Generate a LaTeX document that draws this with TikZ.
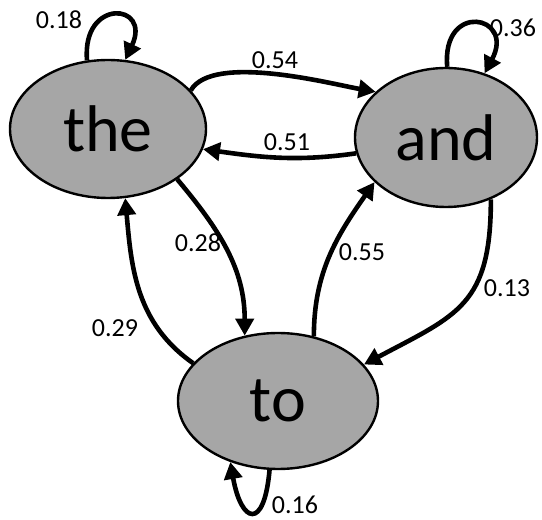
\documentclass[tikz,border=0pt]{standalone}
\usepackage{fontspec}
\setmainfont{Carlito}
\usetikzlibrary{arrows.meta,shapes.geometric}
\definecolor{stategray}{HTML}{A6A6A6}
\begin{document}
\begin{tikzpicture}[x=1pt,y=1pt,
  state/.style={ellipse, draw=black, line width=2.4pt, fill=stategray, inner sep=0pt,
    font=\fontsize{66}{70}\selectfont},
  edge/.style={line width=4.6pt, -{Triangle[length=17pt,width=18pt]}},
  lbl/.style={font=\fontsize{26}{30}\selectfont, inner sep=0pt}]
\useasboundingbox (0,0) rectangle (542,520);
\node[state, minimum width=196pt, minimum height=138pt] (the) at (108,391) {the};
\node[state, minimum width=182pt, minimum height=139pt] (and) at (446,382.5) {and};
\node[state, minimum width=200pt, minimum height=136pt] (to) at (278,119) {to};
% self loops
\draw[edge] (the.107) .. controls +(95:63) and +(65:63) .. (the.76);
\draw[edge] (and.89) .. controls +(95:66) and +(62:66) .. (and.59.5);
\draw[edge] (to.263.4) .. controls +(-95:62) and +(-80:62) .. (to.232);
% edges between states
\draw[edge] (the.25) to[out=60,in=170,looseness=0.6] (and.147);
\draw[edge] (and.190) to[out=188,in=-8] (the.-12);
\draw[edge] (the.-36) to[out=-50,in=90] (to.117);
\draw[edge] (to.156.6) to[out=145,in=-85] (the.-76.5);
\draw[edge] (to.61.3) to[out=90,in=235] (and.212.7);
\draw[edge] (and.-54.5) to[out=-90,in=28,looseness=1.3] (to.23.2);
% labels
\node[lbl] (l18) at (59,500) {0.18};
\node[lbl] (l36) at (513,492) {0.36};
\node[lbl] (l16) at (295,15) {0.16};
\node[lbl] (l54) at (275,460) {0.54};
\node[lbl] (l51) at (287,378) {0.51};
\node[lbl] (l28) at (198,277) {0.28};
\node[lbl] (l55) at (362,268) {0.55};
\node[lbl] (l13) at (507,232) {0.13};
\node[lbl] (l29) at (115,192) {0.29};
\end{tikzpicture}
\end{document}
